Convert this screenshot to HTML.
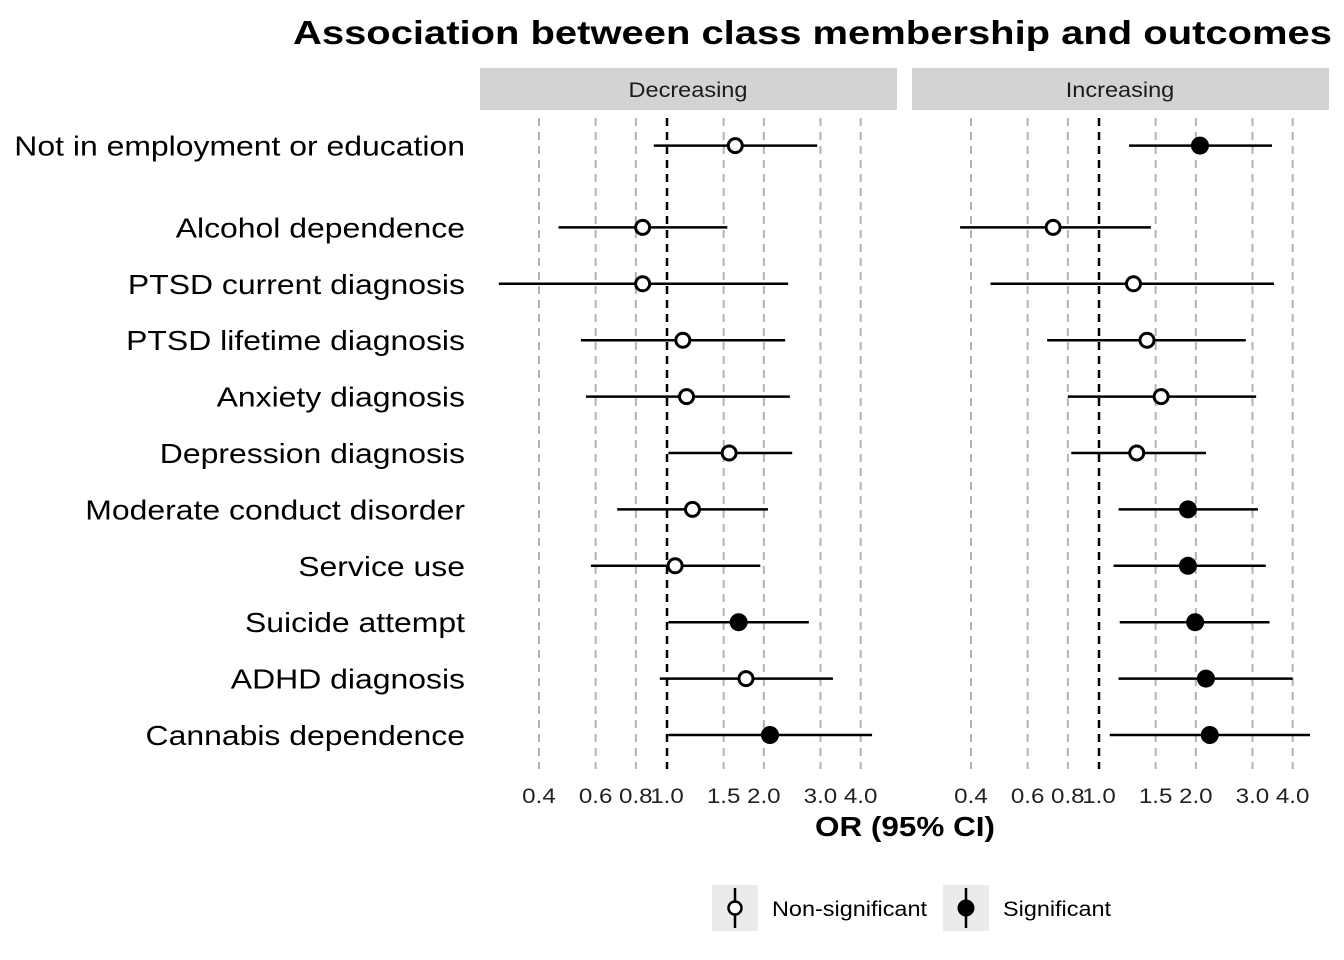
<!DOCTYPE html>
<html><head><meta charset="utf-8"><style>
body{margin:0;background:#fff;}
svg{display:block;font-family:"Liberation Sans",Arial,sans-serif;}
</style></head><body>
<svg id="chart" width="1344" height="960" xmlns="http://www.w3.org/2000/svg">
<text class="wide" data-f="1.0" x="1332" y="44" text-anchor="end" font-size="33" font-weight="bold" fill="#000" textLength="1039" lengthAdjust="spacingAndGlyphs">Association between class membership and outcomes</text>
<g id="plot"></g>
<text x="905" y="836" text-anchor="middle" font-size="28" font-weight="bold" textLength="180" lengthAdjust="spacingAndGlyphs">OR (95% CI)</text>
<g>
<g>
<rect x="712" y="885" width="46" height="46" fill="#ebebeb"/>
<line x1="735" y1="888" x2="735" y2="928" stroke="#000" stroke-width="2.5"/>
<circle cx="735" cy="908" r="6.5" fill="#fff" stroke="#000" stroke-width="2.5"/>
<text x="772" y="916" font-size="21" textLength="155" lengthAdjust="spacingAndGlyphs">Non-significant</text></g>
<g>
<rect x="943" y="885" width="46" height="46" fill="#ebebeb"/>
<line x1="966" y1="888" x2="966" y2="928" stroke="#000" stroke-width="2.5"/>
<circle cx="966" cy="908" r="8.5" fill="#000"/>
<text x="1003" y="916" font-size="21" textLength="108" lengthAdjust="spacingAndGlyphs">Significant</text></g>
</g>
</svg>
<script>
const outcomes=["Cannabis dependence","ADHD diagnosis","Suicide attempt","Service use","Moderate conduct disorder","Depression diagnosis","Anxiety diagnosis","PTSD lifetime diagnosis","PTSD current diagnosis","Alcohol dependence","Not in employment or education"];
const rowPos=[0,1,2,3,4,5,6,7,8,9,10.45];
const panels=["Decreasing","Increasing"];
const decOR=[2.09,1.76,1.67,1.06,1.20,1.56,1.15,1.12,0.84,0.84,1.63];
const decLo=[1.01,0.95,1.01,0.58,0.70,1.01,0.56,0.54,0.30,0.46,0.91];
const decHi=[4.34,3.28,2.76,1.95,2.06,2.45,2.41,2.33,2.38,1.54,2.93];
const decSig=[1,0,1,0,0,0,0,0,0,0,0];
const incOR=[2.21,2.15,1.99,1.89,1.89,1.31,1.56,1.41,1.28,0.72,2.06];
const incLo=[1.08,1.15,1.16,1.11,1.15,0.82,0.80,0.69,0.46,0.37,1.24];
const incHi=[4.53,4.00,3.39,3.30,3.12,2.15,3.08,2.86,3.50,1.45,3.45];
const incSig=[1,1,1,1,1,0,0,0,0,0,1];
const ticks=[0.4,0.6,0.8,1.0,1.5,2.0,3.0,4.0];
const tickLabels=["0.4","0.6","0.8","1.0","1.5","2.0","3.0","4.0"];

const NS="http://www.w3.org/2000/svg";
const g=document.getElementById('plot');
function mk(t,a,p){const e=document.createElementNS(NS,t);for(const k in a)e.setAttribute(k,a[k]);(p||g).appendChild(e);return e;}
function widen(t,f){const w=t.getComputedTextLength();if(w>0){t.setAttribute('textLength',w*f);t.setAttribute('lengthAdjust','spacingAndGlyphs');}}
const panelLeft=[480,912];
function xScale(p,v){return panelLeft[p]+187+139.7*Math.log(v);}
function yScale(r){return 735-r*56.4;}

outcomes.forEach((o,i)=>{
  const t=mk('text',{x:465,y:yScale(rowPos[i])+10,'text-anchor':'end','font-size':28,fill:'#000'});
  t.textContent=o;
  
  
  widen(t,1.14);
});
const data=[[decOR,decLo,decHi,decSig],[incOR,incLo,incHi,incSig]];
panels.forEach((pn,p)=>{
  const pg=mk('g',{});
  
  
  const strip=mk('rect',{x:panelLeft[p],y:68,width:417,height:42,fill:'#d3d3d3'},pg);
  
  
  const st=mk('text',{x:panelLeft[p]+208,y:97,'text-anchor':'middle','font-size':21,fill:'#1a1a1a'},pg);
  st.textContent=pn;
  widen(st,1.12);
  ticks.forEach((tv,k)=>{
    const x=xScale(p,tv);
    const gl=mk('line',{x1:x,y1:118,x2:x,y2:769,stroke:'#b3b3b3','stroke-width':2,'stroke-dasharray':'8,6'},pg);
    
    
    const tl=mk('text',{x:x,y:803,'text-anchor':'middle','font-size':21,fill:'#222'},pg);
    tl.textContent=tickLabels[k];
    
    
    widen(tl,1.15);
  });
  const rl=mk('line',{x1:xScale(p,1),y1:118,x2:xScale(p,1),y2:769,stroke:'#000','stroke-width':2.5,'stroke-dasharray':'8,6'},pg);
  
  
  const [or,lo,hi,sig]=data[p];
  outcomes.forEach((o,i)=>{
    const y=yScale(rowPos[i]);
    const ci=mk('line',{x1:xScale(p,lo[i]),y1:y,x2:xScale(p,hi[i]),y2:y,stroke:'#000','stroke-width':2.5},pg);
    
    
    const c=sig[i]?mk('circle',{cx:xScale(p,or[i]),cy:y,r:9,fill:'#000'},pg)
                 :mk('circle',{cx:xScale(p,or[i]),cy:y,r:7,fill:'#fff',stroke:'#000','stroke-width':3},pg);
    
    
  });
});
</script>
</body></html>
